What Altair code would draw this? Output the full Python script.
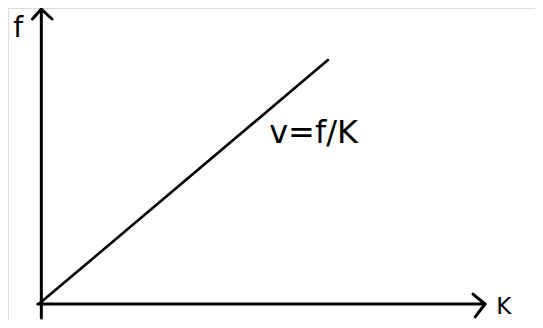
import altair as alt
import pandas as pd

# Line segments of the diagram, in (K, f) units
seg_names = ["K-axis", "K-axis",
             "f-axis", "f-axis",
             "K-arrow", "K-arrow", "K-arrow",
             "f-arrow", "f-arrow", "f-arrow",
             "v-line", "v-line"]
seg_K = [-0.05, 10.0,
         0.03, 0.03,
         9.73, 10.0, 9.78,
         -0.17, 0.03, 0.27,
         0.0, 6.47]
seg_f = [0.0, 0.0,
         -0.47, 9.83,
         0.33, 0.0, -0.43,
         9.5, 9.83, 9.5,
         0.03, 8.13]

# Text labels
label_text = ["f", "K", "v=f/K"]
label_K = [-0.6, 10.25, 5.15]
label_f = [8.9, -0.34, 5.37]
label_size = [28, 23, 32]

segs = pd.DataFrame({"seg": seg_names, "K": seg_K, "f": seg_f,
                     "ord": list(range(len(seg_names)))})
segs["w"] = [3.0 if s != "v-line" else 2.6 for s in seg_names]
labels = pd.DataFrame({"text": label_text, "K": label_K, "f": label_f,
                       "size": label_size})

xs = alt.Scale(domain=[(8 - 40) / 44.5, (535 - 40) / 44.5], nice=False, zero=False)
ys = alt.Scale(domain=[(304 - 320) / 30, (304 - 8) / 30], nice=False, zero=False)

lines = alt.Chart(segs).mark_line(color="black", strokeCap="round", strokeJoin="round").encode(
    x=alt.X("K:Q", scale=xs, axis=None),
    y=alt.Y("f:Q", scale=ys, axis=None),
    detail="seg:N",
    order="ord:Q",
    strokeWidth=alt.StrokeWidth("w:Q", scale=None, legend=None),
)

texts = alt.Chart(labels).mark_text(align="left", baseline="alphabetic",
                                    font="DejaVu Sans", color="black").encode(
    x=alt.X("K:Q", scale=xs, axis=None),
    y=alt.Y("f:Q", scale=ys, axis=None),
    text="text:N",
    size=alt.Size("size:Q", scale=None, legend=None),
)

chart = alt.layer(lines, texts).properties(
    width=527, height=312, padding=0, autosize="none"
).configure_view(stroke=None).configure(background="white")

chart.save("out.html", embed_options={"renderer": "svg", "actions": False})
